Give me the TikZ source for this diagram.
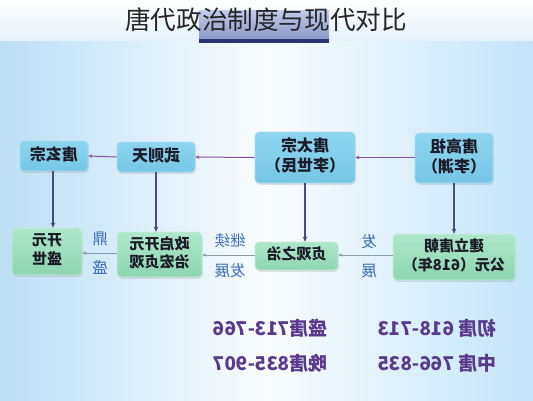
\documentclass[tikz,border=0pt]{standalone}
\usepackage{fontspec}
\setmainfont{Noto Sans CJK SC}
\usepackage{graphicx}
\usetikzlibrary{shadows,arrows.meta}
\newcommand\mirtext[1]{\reflectbox{\begin{tabular}{@{}c@{}}#1\end{tabular}}}
\definecolor{bgL}{HTML}{BBDFF5}
\definecolor{bgR}{HTML}{C3E4F8}
\definecolor{hdrB}{HTML}{E6F2FA}
\definecolor{blueT}{HTML}{8DD5F0}
\definecolor{blueB}{HTML}{76C6E6}
\definecolor{blueBd}{HTML}{A9DDF2}
\definecolor{greenT}{HTML}{AEE8CB}
\definecolor{greenB}{HTML}{8CD5B0}
\definecolor{greenBd}{HTML}{C8EEDB}
\definecolor{txtDark}{HTML}{1C1C28}
\definecolor{arrPurple}{HTML}{8B4F9F}
\definecolor{arrSlate}{HTML}{4B4B7D}
\definecolor{arrGray}{HTML}{8C9BA8}
\definecolor{lblBlue}{HTML}{3D6FB6}
\definecolor{eraPurple}{HTML}{5B3A8C}
\definecolor{ttlT}{HTML}{C3CBE9}
\definecolor{ttlB}{HTML}{8A97C8}
\definecolor{ttlBar}{HTML}{2B3573}
\tikzset{
  boxbase/.style={rounded corners=4pt, line width=0.6pt, inner sep=0pt,
    drop shadow={opacity=0.22, shadow xshift=0.8pt, shadow yshift=-1.8pt},
    text=txtDark},
  bluebox/.style={boxbase, draw=blueBd, top color=blueT, bottom color=blueB,
    font=\bfseries\fontsize{16}{20}\selectfont},
  greenbox/.style={boxbase, draw=greenBd, top color=greenT, bottom color=greenB,
    font=\bfseries\fontsize{15}{17.5}\selectfont},
  toparr/.style={draw=arrPurple, line width=1pt, -{Stealth[length=4pt,width=3.5pt]}},
  downarr/.style={draw=arrSlate, line width=1.2pt, -{Stealth[length=5pt,width=4.5pt]}},
  midarr/.style={draw=arrGray, line width=1pt, -{Stealth[length=4pt,width=3.5pt]}},
  lbl/.style={text=lblBlue, inner sep=0pt, font=\fontsize{15.5}{17}\selectfont},
  era/.style={text=eraPurple, inner sep=0pt, anchor=east, font=\bfseries\fontsize{19}{22}\selectfont}
}
\begin{document}
\begin{tikzpicture}[x=1pt,y=-1pt]
\useasboundingbox (0,0) rectangle (533,400);
% background
\shade[left color=bgL, right color=bgR, middle color=white!92!bgL] (0,40) rectangle (533,400);
\shade[top color=white, bottom color=hdrB] (0,0) rectangle (533,40);
% title box and title
\shade[top color=ttlT, bottom color=ttlB] (199,10) rectangle (329,40);
\fill[ttlBar] (199,38.5) rectangle (329,43);
\node[inner sep=0pt, text=black!85, font=\fontsize{25.6}{28}\selectfont] (title) at (266,20) {唐代政治制度与现代对比};
% row 1
\node[bluebox, minimum width=68pt, minimum height=30pt] (xuanzong) at (54,156) {\mirtext{唐玄宗}};
\node[bluebox, minimum width=78pt, minimum height=30pt] (wuzetian) at (156,157) {\mirtext{武则天}};
\node[bluebox, minimum width=100pt, minimum height=51pt] (taizong) at (305,157.5) {\mirtext{唐太宗\\（李世民）}};
\node[bluebox, minimum width=78pt, minimum height=50pt] (gaozu) at (454,158) {\mirtext{唐高祖\\（李渊）}};
% row 2
\node[greenbox, minimum width=70pt, minimum height=47pt] (kaiyuan) at (47,251.5) {\mirtext{开元\\盛世}};
\node[greenbox, minimum width=85pt, minimum height=45pt] (zhengqi) at (159.5,254.5) {\mirtext{政启开元\\治宏贞观}};
\node[greenbox, minimum width=83pt, minimum height=28pt] (zhenguan) at (296.5,256) {\mirtext{贞观之治}};
\node[greenbox, minimum width=122pt, minimum height=46pt] (jianli) at (454,257) {\mirtext{建立唐朝\\公元（618年）}};
% row 1 arrows
\draw[toparr] (gaozu.west |- taizong.east) -- (taizong.east);
\draw[toparr] (taizong.west) -- (wuzetian.east);
\draw[toparr] (wuzetian.west) -- (xuanzong.east);
% vertical arrows
\draw[downarr] (xuanzong.south -| 53,0) -- (kaiyuan.north -| 53,0);
\draw[downarr] (wuzetian.south) -- (zhengqi.north -| wuzetian.south);
\draw[downarr] (taizong.south) -- (zhenguan.north -| taizong.south);
\draw[downarr] (gaozu.south) -- (jianli.north -| gaozu.south);
% row 2 arrows
\draw[midarr] (jianli.west |- 0,255) -- (zhenguan.east |- 0,255);
\draw[midarr] (zhenguan.west |- 0,255) -- (zhengqi.east |- 0,255);
\draw[midarr] (zhengqi.west |- 0,253) -- (kaiyuan.east |- 0,253);
% labels
\node[lbl] (fa1) at (369,242) {\reflectbox{发}};
\node[lbl] (zhan1) at (369,271) {\reflectbox{展}};
\node[lbl] (jixu) at (230,241) {\reflectbox{继续}};
\node[lbl] (fazhan) at (230,271) {\reflectbox{发展}};
\node[lbl] (ding) at (100,239) {\reflectbox{鼎}};
\node[lbl] (sheng) at (100,267) {\reflectbox{盛}};
% era texts
\node[era] (chu) at (497,328) {\reflectbox{初唐 618-713}};
\node[era] (zhong) at (497,363) {\reflectbox{中唐 766-835}};
\node[era] (shengt) at (328,328) {\reflectbox{盛唐713-766}};
\node[era] (wan) at (328,363) {\reflectbox{晚唐835-907}};
\end{tikzpicture}
\end{document}
